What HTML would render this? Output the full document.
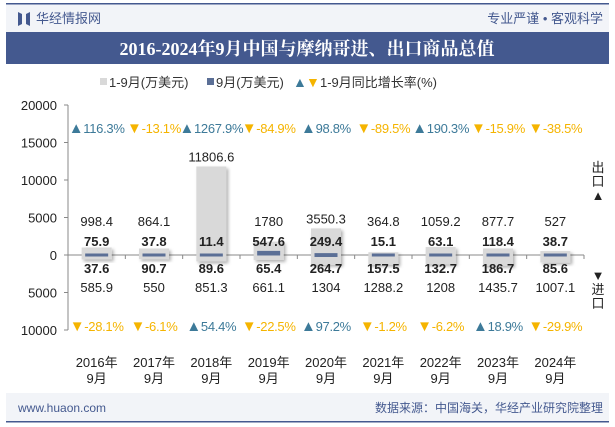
<!DOCTYPE html>
<html><head><meta charset="utf-8"><style>
body{margin:0;width:615px;height:427px;overflow:hidden;background:#fff;font-family:"Liberation Sans","Noto Sans CJK SC",sans-serif}
</style></head><body>
<svg width="615" height="427" xmlns="http://www.w3.org/2000/svg" style="position:absolute;left:0;top:0">
<defs><filter id="sh" x="-30%" y="-30%" width="160%" height="160%"><feDropShadow dx="2" dy="2" stdDeviation="1.5" flood-color="#000" flood-opacity="0.3"/></filter></defs>
<g>
<rect x="6" y="4" width="603" height="28" fill="#f2f4f8"/>
<rect x="6" y="3" width="603" height="1.5" fill="#44598f"/>
<path d="M18 12 L22 14 L22 24 L18 26Z M26 14 L30 12 L30 26 L26 24Z" fill="#44598f"/>
<text x="36" y="23" font-size="13" fill="#44598f">华经情报网</text>
<text x="603" y="23" font-size="13" fill="#44598f" text-anchor="end">专业严谨 • 客观科学</text>
</g>
<rect x="6" y="32" width="603" height="32" fill="#44598f"/>
<text x="307" y="55" font-size="18" font-weight="bold" fill="#fff" text-anchor="middle" font-family="Liberation Serif,Noto Serif CJK SC,serif">2016-2024年9月中国与摩纳哥进、出口商品总值</text>
<g font-size="13" fill="#333">
<rect x="100" y="78" width="7" height="7" fill="#d9d9d9"/><text x="109" y="87">1-9月(万美元)</text>
<rect x="207" y="78" width="7" height="7" fill="#5b6f96"/><text x="216" y="87">9月(万美元)</text>
<text x="293" y="87" fill="#3d7a99" font-size="14">▲</text><text x="306" y="87" fill="#f5b400" font-size="14">▼</text>
<text x="320" y="87">1-9月同比增长率(%)</text>
</g>
<g id="axes" font-size="13" fill="#222"></g>
<g id="marks"></g>
<text x="598" y="172" font-size="13" fill="#222" text-anchor="middle"><tspan x="598" dy="0">出</tspan><tspan x="598" dy="14">口</tspan><tspan x="598" dy="14">▲</tspan></text>
<text x="598" y="280" font-size="13" fill="#222" text-anchor="middle"><tspan x="598" dy="0">▼</tspan><tspan x="598" dy="14">进</tspan><tspan x="598" dy="14">口</tspan></text>
<g>
<rect x="6" y="393" width="603" height="29" fill="#f2f4f8"/>
<rect x="6" y="421" width="603" height="1.5" fill="#44598f"/>
<text x="18" y="412" font-size="12" fill="#44598f">www.huaon.com</text>
<text x="603" y="412" font-size="12" fill="#44598f" text-anchor="end">数据来源：中国海关，华经产业研究院整理</text>
</g>
</svg>
<script>
const years=["2016","2017","2018","2019","2020","2021","2022","2023","2024"];
const exportYtd=[998.4,864.1,11806.6,1780,3550.3,364.8,1059.2,877.7,527];
const exportMonth=[75.9,37.8,11.4,547.6,249.4,15.1,63.1,118.4,38.7];
const importYtd=[585.9,550,851.3,661.1,1304,1288.2,1208,1435.7,1007.1];
const importMonth=[37.6,90.7,89.6,65.4,264.7,157.5,132.7,186.7,85.6];
const exportGrowth=[116.3,-13.1,1267.9,-84.9,98.8,-89.5,190.3,-15.9,-38.5];
const importGrowth=[-28.1,-6.1,54.4,-22.5,97.2,-1.2,-6.2,18.9,-29.9];
const yTicks=[20000,15000,10000,5000,0,-5000,-10000];
const NS="http://www.w3.org/2000/svg";
const x0=68,x1=584,bw=(x1-x0)/years.length;
const cx=i=>x0+bw*(i+0.5);
const y=v=>255-v*0.0075;
function mk(tag,attrs,parent,text){const e=document.createElementNS(NS,tag);for(const k in attrs)e.setAttribute(k,attrs[k]);if(text!==undefined)e.textContent=text;parent.appendChild(e);return e;}
const ax=document.getElementById('axes'),mg=document.getElementById('marks');
let l=mk('line',{x1:x0,y1:y(20000),x2:x0,y2:y(-10000),stroke:'#888'},ax);


yTicks.forEach(t=>{
 mk('line',{x1:x0-4,y1:y(t),x2:x0,y2:y(t),stroke:'#888'},ax);
 const tx=mk('text',{x:x0-11,y:y(t)+5,'text-anchor':'end'},ax,String(Math.abs(t)));
 
 
});
l=mk('line',{x1:x0,y1:y(0),x2:x1,y2:y(0),stroke:'#888'},ax);


for(let i=0;i<=years.length;i++)mk('line',{x1:x0+bw*i,y1:y(0),x2:x0+bw*i,y2:y(0)+4,stroke:'#888'},ax);
const fmt=v=>String(v);
years.forEach((yr,i)=>{
 const c=cx(i);
 let r=mk('rect',{x:c-15,y:y(exportYtd[i]),width:30,height:y(-importYtd[i])-y(exportYtd[i]),fill:'#d9d9d9',filter:'url(#sh)'},mg);
 
 
 const top=y(exportMonth[i]),bot=y(-importMonth[i]);
 r=mk('rect',{x:c-11.5,y:Math.min(top,y(0)-1.5),width:23,height:Math.max(bot-top,3),fill:'#5b6f96'},mg);
 
 
 const t=(yy,s,bold,col,name)=>{const e=mk('text',{x:c,y:yy,'text-anchor':'middle','font-size':13,fill:col||'#222','font-weight':bold?'bold':'normal'},mg,s);return e;};
 t(Math.min(226,y(exportYtd[i])-5),fmt(exportYtd[i]),false,null,'export-ytd-label');
 t(246,fmt(exportMonth[i]),true,null,'export-month-label');
 t(273,fmt(importMonth[i]),true,null,'import-month-label');
 t(292,fmt(importYtd[i]),false,null,'import-ytd-label');
 const g=(yy,v,name)=>{const e=t(yy,'',false,v>=0?'#3d7a99':'#f5b400',name);e.setAttribute('letter-spacing','-0.3');mk('tspan',{'font-size':15},e,v>=0?'▲':'▼');mk('tspan',{},e,v.toFixed(1)+'%');};
 g(133,exportGrowth[i],'export-growth-label');
 g(331,importGrowth[i],'import-growth-label');
 t(367,yr+'年',false,null,'x-tick-label');
 t(383,'9月',false,null,'x-tick-month');
});
</script>
</body></html>
